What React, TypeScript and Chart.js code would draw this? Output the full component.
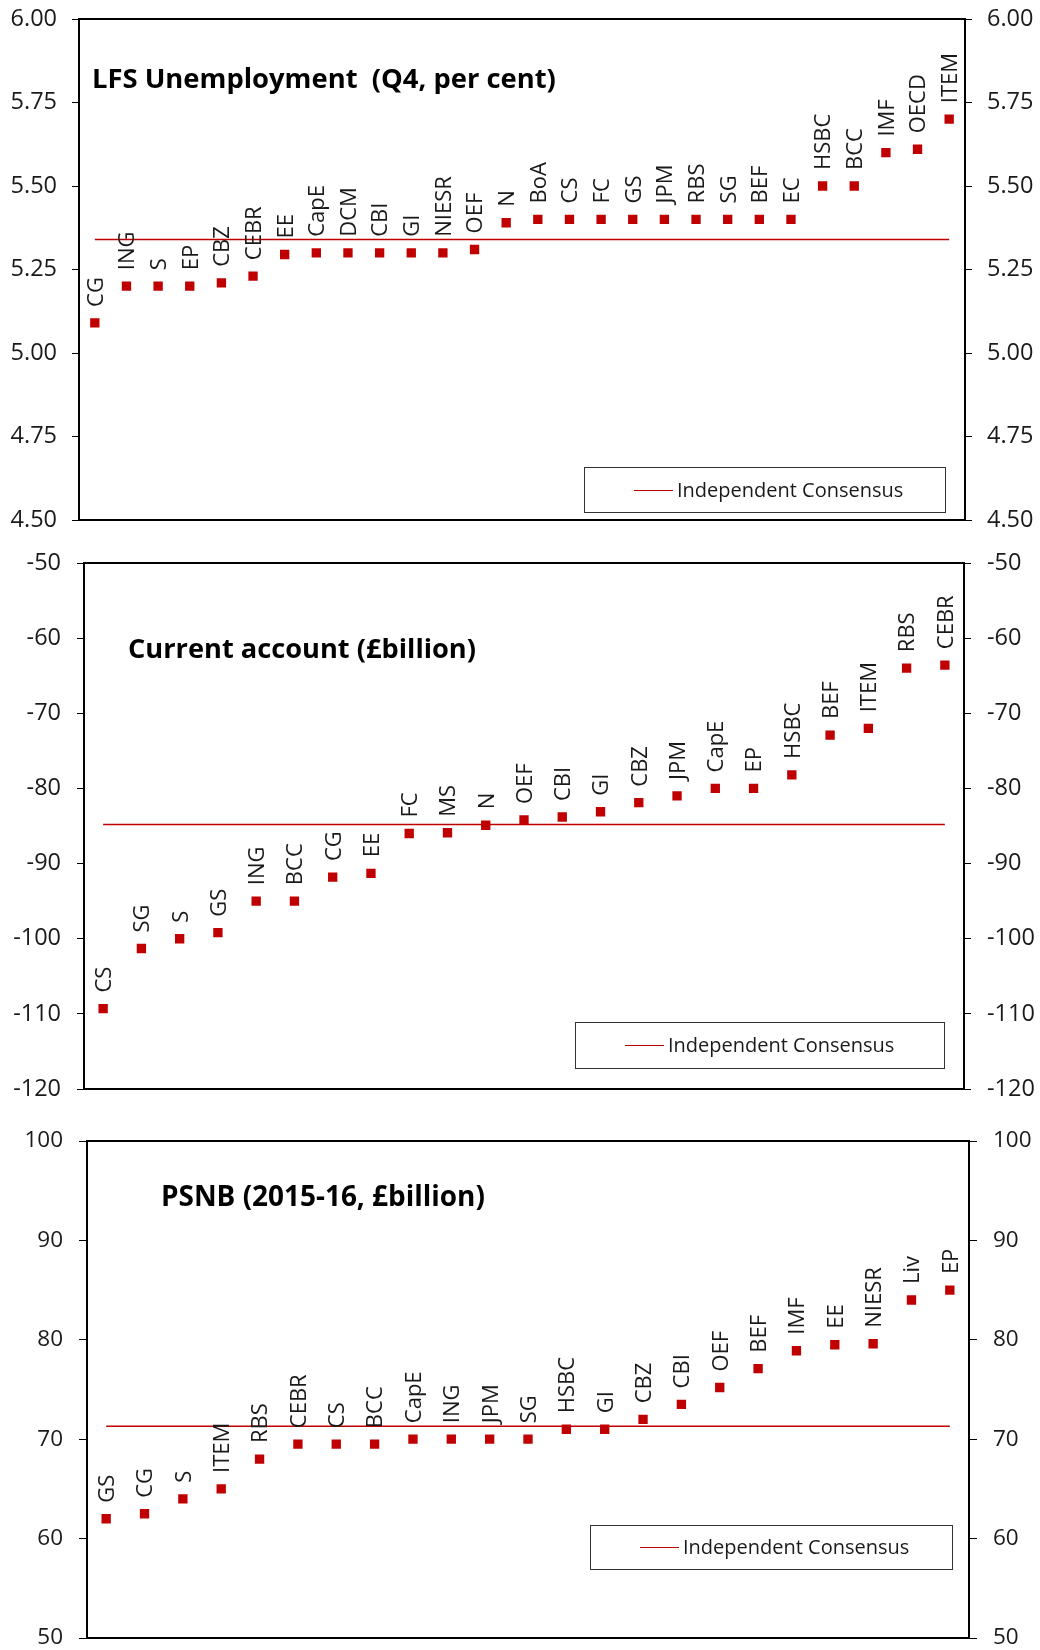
import React, { useEffect, useRef } from "react";
import { Chart, registerables } from "chart.js";

Chart.register(...registerables);

// ---------- DATA ----------
const unempLabels = ["CG", "ING", "S", "EP", "CBZ", "CEBR", "EE", "CapE", "DCM", "CBI", "GI", "NIESR", "OEF", "N", "BoA", "CS", "FC", "GS", "JPM", "RBS", "SG", "BEF", "EC", "HSBC", "BCC", "IMF", "OECD", "ITEM"];
const unempValues = [5.09, 5.2, 5.2, 5.2, 5.21, 5.23, 5.295, 5.3, 5.3, 5.3, 5.3, 5.3, 5.31, 5.39, 5.4, 5.4, 5.4, 5.4, 5.4, 5.4, 5.4, 5.4, 5.4, 5.5, 5.5, 5.6, 5.61, 5.7];
const unempConsensus = 5.34;
const unempTicks = [4.5, 4.75, 5.0, 5.25, 5.5, 5.75, 6.0];

const caLabels = ["CS", "SG", "S", "GS", "ING", "BCC", "CG", "EE", "FC", "MS", "N", "OEF", "CBI", "GI", "CBZ", "JPM", "CapE", "EP", "HSBC", "BEF", "ITEM", "RBS", "CEBR"];
const caValues = [-109.3, -101.3, -100.0, -99.2, -95.0, -95.0, -91.8, -91.3, -86.0, -85.9, -84.9, -84.2, -83.8, -83.1, -81.9, -81.0, -80.0, -80.0, -78.2, -72.9, -72.0, -64.0, -63.6];
const caConsensus = -84.8;
const caTicks = [-120, -110, -100, -90, -80, -70, -60, -50];

const psnbLabels = ["GS", "CG", "S", "ITEM", "RBS", "CEBR", "CS", "BCC", "CapE", "ING", "JPM", "SG", "HSBC", "GI", "CBZ", "CBI", "OEF", "BEF", "IMF", "EE", "NIESR", "Liv", "EP"];
const psnbValues = [62.0, 62.5, 64.0, 65.0, 68.0, 69.5, 69.5, 69.5, 70.0, 70.0, 70.0, 70.0, 71.0, 71.0, 72.0, 73.5, 75.2, 77.1, 78.9, 79.5, 79.6, 84.0, 85.0];
const psnbConsensus = 71.3;
const psnbTicks = [50, 60, 70, 80, 90, 100];

const consensusLabel = "Independent Consensus";

// ---------- STYLE / LAYOUT ----------
const RED = "#c00000";
const TEXT = "#1a1a1a";
const FONT = '"Open Sans", "Noto Sans", sans-serif';
const MARGIN = 45; // canvas room above/below the plot area

type Panel = {
  title: string;
  labels: string[];
  values: number[];
  consensus: number;
  ticks: number[];
  decimals: number;
  area: { l: number; r: number; t: number; b: number };
  titlePos: { x: number; base: number; w: number };
  legend: { x: number; y: number; w: number; h: number };
  tickLen: number;
  tickPad: number;
  tickSize: number;
};

const panels: Panel[] = [
  {
    title: "LFS Unemployment  (Q4, per cent)",
    labels: unempLabels,
    values: unempValues,
    consensus: unempConsensus,
    ticks: unempTicks,
    decimals: 2,
    area: { l: 79, r: 965, t: 19, b: 520 },
    titlePos: { x: 92, base: 88, w: 464 },
    legend: { x: 584, y: 467, w: 361, h: 45 },
    tickLen: 7,
    tickPad: 15,
    tickSize: 23.5,
  },
  {
    title: "Current account (£billion)",
    labels: caLabels,
    values: caValues,
    consensus: caConsensus,
    ticks: caTicks,
    decimals: 0,
    area: { l: 84, r: 964, t: 563, b: 1089 },
    titlePos: { x: 128, base: 658, w: 348 },
    legend: { x: 575, y: 1022, w: 369, h: 46 },
    tickLen: 7,
    tickPad: 16,
    tickSize: 23.5,
  },
  {
    title: "PSNB (2015-16, £billion)",
    labels: psnbLabels,
    values: psnbValues,
    consensus: psnbConsensus,
    ticks: psnbTicks,
    decimals: 0,
    area: { l: 87, r: 969, t: 1141, b: 1638 },
    titlePos: { x: 161, base: 1206, w: 324 },
    legend: { x: 590, y: 1525, w: 362, h: 44 },
    tickLen: 8,
    tickPad: 16,
    tickSize: 22.5,
  },
];

const canvasTop = (p: Panel) => p.area.t - MARGIN;
const canvasHeight = (p: Panel) => p.area.b - p.area.t + 2 * MARGIN;

function makeConfig(p: Panel): any {
  const top = canvasTop(p);
  const yAxis = (position: "left" | "right", width: number) => ({
    type: "linear",
    position,
    min: p.ticks[0],
    max: p.ticks[p.ticks.length - 1],
    afterBuildTicks: (axis: any) => {
      axis.ticks = p.ticks.map((v) => ({ value: v }));
    },
    afterFit: (axis: any) => {
      axis.width = width;
    },
    grid: {
      drawOnChartArea: false,
      drawTicks: true,
      tickLength: p.tickLen,
      color: "#000",
      lineWidth: 1,
    },
    border: { display: true, color: "#000", width: 2 },
    ticks: {
      padding: p.tickPad,
      color: TEXT,
      font: { family: FONT, size: p.tickSize },
      callback: (v: any) => Number(v).toFixed(p.decimals),
    },
  });

  const decor = {
    id: "decor",
    beforeDatasetsDraw(chart: any) {
      const { ctx, chartArea } = chart;
      ctx.save();
      ctx.strokeStyle = "#000";
      ctx.lineWidth = 2;
      ctx.beginPath();
      ctx.moveTo(chartArea.left - 1, chartArea.top);
      ctx.lineTo(chartArea.right + 1, chartArea.top);
      ctx.moveTo(chartArea.left - 1, chartArea.bottom);
      ctx.lineTo(chartArea.right + 1, chartArea.bottom);
      ctx.stroke();
      ctx.restore();
    },
    afterDatasetsDraw(chart: any) {
      const { ctx } = chart;
      ctx.save();
      // category labels above each point
      const meta = chart.getDatasetMeta(0);
      const size = 22;
      const capH = size * 0.714;
      ctx.font = `${size}px ${FONT}`;
      ctx.fillStyle = TEXT;
      ctx.textAlign = "left";
      ctx.textBaseline = "alphabetic";
      meta.data.forEach((pt: any, i: number) => {
        ctx.save();
        ctx.translate(pt.x + capH / 2, pt.y - 16);
        ctx.rotate(-Math.PI / 2);
        ctx.fillText(p.labels[i], 0, 0);
        ctx.restore();
      });

      // title, fitted to its width in the reference
      ctx.fillStyle = "#000";
      ctx.font = `bold 30px ${FONT}`;
      const w30 = ctx.measureText(p.title).width;
      const tSize = (30 * p.titlePos.w) / w30;
      ctx.font = `bold ${tSize}px ${FONT}`;
      ctx.fillText(p.title, p.titlePos.x, p.titlePos.base - top);

      // legend box
      const lg = p.legend;
      const ly = lg.y - top;
      ctx.strokeStyle = "#333";
      ctx.lineWidth = 1;
      ctx.strokeRect(lg.x + 0.5, ly + 0.5, lg.w, lg.h);
      const ds = chart.data.datasets[1];
      const midY = Math.round(ly + lg.h / 2) + 0.5;
      ctx.strokeStyle = ds.borderColor;
      ctx.lineWidth = 1.2;
      ctx.beginPath();
      ctx.moveTo(lg.x + 50, midY);
      ctx.lineTo(lg.x + 89, midY);
      ctx.stroke();
      ctx.fillStyle = TEXT;
      ctx.font = `20px ${FONT}`;
      ctx.textBaseline = "middle";
      ctx.fillText(ds.label, lg.x + 93, midY + 1);
      ctx.restore();
    },
  };

  return {
    type: "line",
    data: {
      labels: p.labels,
      datasets: [
        {
          label: "Forecasts",
          data: p.values,
          showLine: false,
          pointStyle: "rect",
          pointRadius: 6.6,
          pointHoverRadius: 6.6,
          pointBorderWidth: 0,
          pointBackgroundColor: RED,
          backgroundColor: RED,
          borderColor: RED,
          order: 0,
        },
        {
          label: consensusLabel,
          data: p.labels.map(() => p.consensus),
          borderColor: RED,
          borderWidth: 1.5,
          pointRadius: 0,
          fill: false,
          order: 1,
        },
      ],
    },
    options: {
      animation: false,
      responsive: false,
      devicePixelRatio: 1,
      layout: {
        padding: { top: MARGIN, bottom: MARGIN, left: 0, right: 0 },
      },
      plugins: {
        legend: { display: false },
        tooltip: { enabled: false },
        title: { display: false },
      },
      scales: {
        x: { type: "category", offset: true, display: false },
        y: yAxis("left", p.area.l),
        y2: yAxis("right", 1040 - p.area.r),
      },
    },
    plugins: [decor],
  };
}

function PanelChart({ panel }: { panel: Panel }) {
  const ref = useRef<HTMLCanvasElement | null>(null);
  useEffect(() => {
    if (!ref.current) return;
    const chart = new Chart(ref.current, makeConfig(panel));
    return () => chart.destroy();
  }, [panel]);
  const h = canvasHeight(panel);
  return (
    <canvas
      ref={ref}
      width={1040}
      height={h}
      style={{ position: "absolute", left: 0, top: canvasTop(panel), display: "block", width: 1040, height: h }}
    />
  );
}

export default function App() {
  return (
    <div style={{ position: "absolute", left: 0, top: 0, width: 1040, height: 1650, background: "#fff", overflow: "hidden" }}>
      {panels.map((p, i) => (
        <PanelChart key={i} panel={p} />
      ))}
    </div>
  );
}
